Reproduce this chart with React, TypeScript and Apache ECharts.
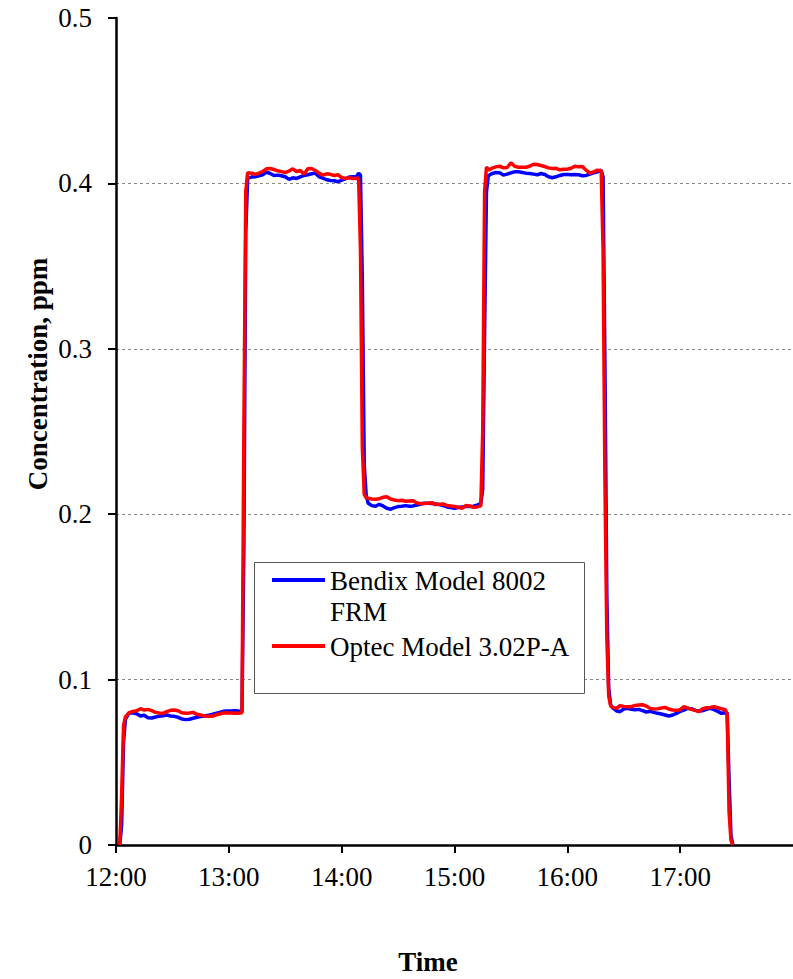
import React, { useEffect, useRef } from "react";
import * as echarts from "echarts";

// Time in minutes after 12:00
const minutes = [
  2, 3, 4, 5, 7, 9, 11, 13, 15, 17, 19, 21, 23, 25, 27, 29, 31, 33, 35, 37, 39, 41, 43, 45, 47, 49, 51, 53, 55, 57, 59, 61, 63, 65, 66,
  67, 68, 69,
  70, 72, 74, 76, 78, 80, 82, 84, 86, 88, 90, 92, 94, 96, 98, 100, 102, 104, 106, 108, 110, 112, 114, 116, 118, 120, 122, 124, 126, 128, 129,
  130, 131, 132, 133,
  134, 136, 138, 140, 142, 144, 146, 148, 150, 152, 154, 156, 158, 160, 162, 164, 166, 168, 170, 172, 174, 176, 178, 180, 182, 184, 186, 188, 190, 192, 194,
  195, 196, 197,
  198, 200, 202, 204, 206, 208, 210, 212, 214, 216, 218, 220, 222, 224, 226, 228, 230, 232, 234, 236, 238, 240, 242, 244, 246, 248, 250, 252, 254, 256, 258,
  259, 260, 261, 262, 263,
  264, 266, 268, 270, 272, 274, 276, 278, 280, 282, 284, 286, 288, 290, 292, 294, 296, 298, 300, 302, 304, 306, 308, 310, 312, 314, 316, 318, 320, 322, 324,
  325, 326, 327, 328,
];

const bendix = [
  0, 0.012, 0.062, 0.076, 0.08, 0.0798, 0.0794, 0.078, 0.0784, 0.077, 0.0768, 0.0774, 0.0778, 0.0782, 0.0786, 0.078, 0.0778, 0.0772, 0.0762, 0.0758, 0.076, 0.0766, 0.0772, 0.0776, 0.078, 0.0784, 0.079, 0.0796, 0.0802, 0.0808, 0.081, 0.081, 0.0812, 0.081, 0.0808,
  0.0808, 0.18, 0.37,
  0.403, 0.4038, 0.404, 0.4046, 0.4052, 0.4068, 0.406, 0.4048, 0.405, 0.4046, 0.404, 0.4024, 0.4034, 0.403, 0.404, 0.4048, 0.4052, 0.4058, 0.4062, 0.404, 0.4032, 0.4022, 0.4018, 0.4016, 0.401, 0.402, 0.4028, 0.4038, 0.404, 0.4042, 0.4062,
  0.405, 0.34, 0.23, 0.212,
  0.2068, 0.2052, 0.2048, 0.206, 0.205, 0.2036, 0.203, 0.204, 0.2046, 0.2048, 0.2052, 0.2048, 0.205, 0.2056, 0.2062, 0.2066, 0.2066, 0.2064, 0.2062, 0.2058, 0.2052, 0.2044, 0.204, 0.2036, 0.204, 0.2044, 0.2046, 0.2046, 0.2048, 0.2054, 0.2066,
  0.215, 0.31, 0.395,
  0.4046, 0.406, 0.4066, 0.4064, 0.405, 0.4056, 0.4064, 0.407, 0.407, 0.4066, 0.4062, 0.406, 0.4056, 0.4052, 0.406, 0.4054, 0.404, 0.4034, 0.404, 0.4048, 0.4054, 0.4054, 0.4052, 0.4054, 0.4052, 0.4046, 0.4048, 0.4056, 0.4064, 0.407, 0.408,
  0.404, 0.29, 0.15, 0.095, 0.085,
  0.083, 0.0812, 0.0806, 0.0822, 0.0826, 0.082, 0.0818, 0.082, 0.0812, 0.0804, 0.0808, 0.0802, 0.0796, 0.0792, 0.0786, 0.078, 0.0786, 0.0796, 0.0808, 0.0816, 0.0826, 0.0824, 0.0814, 0.081, 0.0812, 0.082, 0.0826, 0.0818, 0.0808, 0.0796, 0.08,
  0.08, 0.04, 0.006, 0,
];

const optec = [
  0, 0.03, 0.072, 0.0775, 0.08, 0.0808, 0.0812, 0.0824, 0.0816, 0.082, 0.0812, 0.0802, 0.0798, 0.0796, 0.0806, 0.0814, 0.0816, 0.0812, 0.08, 0.0796, 0.0798, 0.0802, 0.079, 0.0786, 0.078, 0.0778, 0.0778, 0.0786, 0.0792, 0.0798, 0.08, 0.0798, 0.0796, 0.0796, 0.0798,
  0.08, 0.25, 0.395,
  0.4065, 0.4061, 0.4055, 0.4062, 0.4072, 0.4088, 0.409, 0.4084, 0.4076, 0.4071, 0.4065, 0.4075, 0.4088, 0.4072, 0.4078, 0.4055, 0.4088, 0.409, 0.4078, 0.4062, 0.405, 0.4058, 0.4055, 0.4048, 0.4052, 0.4036, 0.403, 0.4034, 0.403, 0.4031, 0.403,
  0.36, 0.24, 0.212, 0.21,
  0.2096, 0.2092, 0.209, 0.2094, 0.2102, 0.2106, 0.2092, 0.2086, 0.2082, 0.2084, 0.2078, 0.208, 0.2082, 0.2068, 0.2064, 0.2064, 0.2066, 0.207, 0.2058, 0.206, 0.2062, 0.2052, 0.205, 0.2046, 0.2042, 0.2036, 0.2052, 0.205, 0.2042, 0.2044, 0.205,
  0.25, 0.395, 0.41,
  0.408, 0.4092, 0.41, 0.4104, 0.4094, 0.4096, 0.4124, 0.4104, 0.4098, 0.4098, 0.4098, 0.4104, 0.4116, 0.4114, 0.4108, 0.4102, 0.4094, 0.409, 0.4091, 0.4082, 0.4086, 0.4086, 0.4092, 0.4104, 0.41, 0.4102, 0.408, 0.4062, 0.407, 0.408, 0.4076,
  0.36, 0.22, 0.125, 0.09, 0.0842,
  0.0832, 0.0826, 0.0842, 0.0838, 0.0836, 0.0836, 0.0844, 0.0846, 0.0848, 0.084, 0.0826, 0.0822, 0.0824, 0.0828, 0.0832, 0.0822, 0.0816, 0.0814, 0.0818, 0.0836, 0.0828, 0.082, 0.0814, 0.0806, 0.0824, 0.083, 0.0832, 0.0836, 0.083, 0.0824, 0.0818,
  0.079, 0.02, 0.003, 0,
];

const timeLabels = ["12:00", "13:00", "14:00", "15:00", "16:00", "17:00"];
const seriesNames = ["Bendix Model 8002 FRM", "Optec Model 3.02P-A"];

const FONT = "Liberation Serif";

export default function App() {
  const ref = useRef<HTMLDivElement>(null);

  useEffect(() => {
    if (!ref.current) return;
    const chart = echarts.init(ref.current, null, { renderer: "svg" });
    const labelStyle = { fontFamily: FONT, fontSize: 27, color: "#000" };
    const textStyle = (text: string, bold: boolean, align: string) => ({
      text,
      fontFamily: FONT,
      fontSize: 27,
      fontWeight: bold ? "bold" : "normal",
      fill: "#000",
      align,
      verticalAlign: "middle",
    });
    const option = {
      animation: false,
      backgroundColor: "#fff",
      textStyle: { fontFamily: FONT },
      grid: { left: 116, right: -4, top: 18, bottom: 134, containLabel: false },
      xAxis: {
        type: "value",
        min: 0,
        max: 360,
        interval: 60,
        axisLine: { show: true, onZero: false, lineStyle: { color: "#000", width: 2.5 } },
        axisTick: { show: true, inside: false, length: 8, lineStyle: { color: "#000", width: 2 } },
        axisLabel: {
          ...labelStyle,
          margin: 18,
          showMaxLabel: false,
          formatter: (v: number) => timeLabels[Math.round(v / 60)] ?? "",
        },
        splitLine: { show: false },
      },
      yAxis: {
        type: "value",
        min: 0,
        max: 0.5,
        interval: 0.1,
        axisLine: { show: true, onZero: false, lineStyle: { color: "#000", width: 2.5 } },
        axisTick: { show: true, inside: false, length: 8, lineStyle: { color: "#000", width: 2 } },
        axisLabel: {
          ...labelStyle,
          margin: 24,
          formatter: (v: number) => (v === 0 ? "0" : v.toFixed(1)),
        },
        splitLine: {
          show: true,
          lineStyle: {
            type: [3, 3],
            width: 1,
            color: ["rgba(0,0,0,0)", "#888", "#888", "#888", "#888", "rgba(0,0,0,0)"],
          },
        },
      },
      series: [
        {
          name: seriesNames[0],
          type: "line",
          showSymbol: false,
          symbol: "none",
          data: minutes.map((m, i) => [m, bendix[i]]),
          lineStyle: { color: "#0000ff", width: 3.5 },
          itemStyle: { color: "#0000ff" },
        },
        {
          name: seriesNames[1],
          type: "line",
          showSymbol: false,
          symbol: "none",
          data: minutes.map((m, i) => [m, optec[i]]),
          lineStyle: { color: "#ff0000", width: 3.5 },
          itemStyle: { color: "#ff0000" },
        },
      ],
      graphic: [
        {
          type: "text",
          z: 100,
          x: 38,
          y: 374,
          rotation: Math.PI / 2,
          style: textStyle("Concentration, ppm", true, "center"),
        },
        {
          type: "text",
          z: 100,
          x: 428,
          y: 962,
          style: textStyle("Time", true, "center"),
        },
        {
          type: "group",
          z: 100,
          children: [
            {
              type: "rect",
              z: 100,
              shape: { x: 254.5, y: 562.5, width: 330, height: 131 },
              style: { fill: "#fff", stroke: "#555", lineWidth: 1 },
            },
            {
              type: "line",
              z: 101,
              shape: { x1: 272, y1: 580, x2: 325, y2: 580 },
              style: { stroke: "#0000ff", lineWidth: 4 },
            },
            {
              type: "text",
              z: 101,
              x: 330,
              y: 581,
              style: textStyle("Bendix Model 8002", false, "left"),
            },
            {
              type: "text",
              z: 101,
              x: 330,
              y: 612,
              style: textStyle("FRM", false, "left"),
            },
            {
              type: "line",
              z: 101,
              shape: { x1: 272, y1: 646, x2: 325, y2: 646 },
              style: { stroke: "#ff0000", lineWidth: 4 },
            },
            {
              type: "text",
              z: 101,
              x: 330,
              y: 647,
              style: textStyle("Optec Model 3.02P-A", false, "left"),
            },
          ],
        },
      ],
    };
    chart.setOption(option as any);
    return () => {
      chart.dispose();
    };
  }, []);

  return (
    <div
      ref={ref}
      style={{ position: "fixed", left: 0, top: 0, width: 793, height: 979, background: "#fff" }}
    />
  );
}
